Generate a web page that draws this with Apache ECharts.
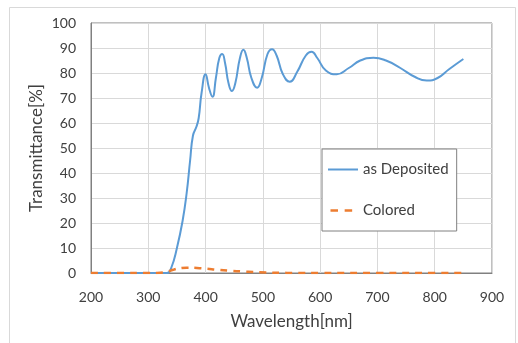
<!DOCTYPE html>
<html><head><meta charset="utf-8">
<script src="https://cdn.jsdelivr.net/npm/echarts@6/dist/echarts.min.js"></script>
<style>html,body{margin:0;padding:0;background:#fff}#c{width:518px;height:343px}</style>
</head><body><div id="c"></div>
<script>
var depWl  = [200,250,300,320,333,340,350,360,367,373,378,384,388,393,400,406,412,418,424,429,434,440,446,452,460,466,472,480,490,498,508,516,524,535,547,560,575,585,595,610,629,650,670,693,715,740,765,786,805,825,850];
var depVal = [0,0,0,0,0,2,10,21,32,45,55,58.5,62,72,79.5,74,70.5,78,86,87.6,84,76,72.8,76,86,89.3,86,78,74.1,78,87.5,89.5,87,79.5,76.5,80.5,87,88.5,86,81,79.5,82,85,86.1,85,82,78.5,77,78,81.5,85.6];
var colWl  = [200,250,300,315,332,345,355,367,385,402,420,443,465,483,505,530,560,600,700,800,850];
var colVal = [0,0,0,0,0.5,1.4,1.9,2.1,2.0,1.7,1.3,0.9,0.6,0.4,0.2,0.1,0,0,0,0,0];
var xTicks = {min:200,max:900,step:100};
var yTicks = {min:0,max:100,step:10};
var seriesNames = ['as Deposited','Colored'];

function pairs(a,b){return a.map(function(v,i){return [v,b[i]];});}
var font = 'Lato, "Open Sans", sans-serif';
var chart = echarts.init(document.getElementById('c'), null, {renderer:'canvas'});
chart.setOption({
  animation:false,
  backgroundColor:'#fff',
  graphic:[{type:'rect',shape:{x:9.5,y:7.5,width:506,height:345},style:{fill:'none',stroke:'#d9d9d9',lineWidth:1},silent:true}],
  grid:{left:91,right:26,top:23,bottom:70,show:true,borderColor:'#808080',borderWidth:1},
  xAxis:{type:'value',min:xTicks.min,max:xTicks.max,interval:xTicks.step,
    name:'Wavelength[nm]',nameLocation:'middle',nameGap:40,nameMoveOverlap:false,
    nameTextStyle:{fontFamily:font,fontSize:17,color:'#404040'},
    axisLine:{show:true,lineStyle:{color:'#808080'}},axisTick:{show:false},
    axisLabel:{margin:17,fontFamily:font,fontSize:14,color:'#404040'},
    splitLine:{lineStyle:{color:'#d9d9d9'}}},
  yAxis:{type:'value',min:yTicks.min,max:yTicks.max,interval:yTicks.step,
    name:'Transmittance[%]',nameLocation:'middle',nameGap:46,nameRotate:90,nameMoveOverlap:false,
    nameTextStyle:{fontFamily:font,fontSize:17,color:'#404040'},
    axisLine:{show:true,lineStyle:{color:'#808080'}},axisTick:{show:false},
    axisLabel:{margin:15,fontFamily:font,fontSize:14,color:'#404040'},
    splitLine:{lineStyle:{color:'#d9d9d9'}}},
  legend:{left:322,top:149,orient:'vertical',width:120,
    padding:[13,8,13,6],itemGap:26,itemWidth:30,itemHeight:2.5,
    borderColor:'#808080',borderWidth:1,backgroundColor:'#fff',
    textStyle:{fontFamily:font,fontSize:15,color:'#404040',lineHeight:14},
    data:[
      {name:seriesNames[0],icon:'path://M0,0h30v2h-30z',itemStyle:{color:'#5b9bd5'}},
      {name:seriesNames[1],icon:'path://M0,0h9v3h-9zM17,0h9v3h-9zM29.9,0h0.1v0.01h-0.1z',itemStyle:{color:'#ed7d31'}}
    ]},
  series:[
    {name:seriesNames[0],type:'line',data:pairs(depWl,depVal),smooth:0.5,symbol:'none',
     lineStyle:{color:'#5b9bd5',width:2},itemStyle:{color:'#5b9bd5'},z:3},
    {name:seriesNames[1],type:'line',data:pairs(colWl,colVal),smooth:0.5,symbol:'none',
     lineStyle:{color:'#ed7d31',width:2.5,type:[7,6]},itemStyle:{color:'#ed7d31'},z:4}
  ]
});
</script></body></html>
